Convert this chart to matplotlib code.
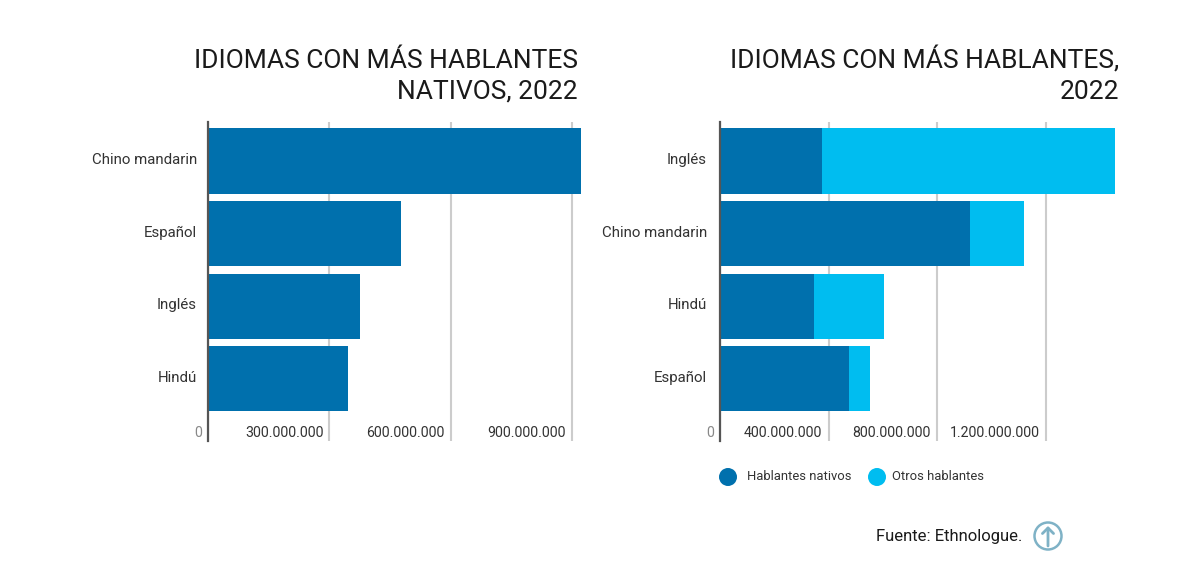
import matplotlib
matplotlib.use("Agg")
import matplotlib.pyplot as plt
from matplotlib.transforms import ScaledTranslation
from matplotlib.patches import Circle, FancyArrowPatch

left_langs = ["Chino mandarin", "Español", "Inglés", "Hindú"]
left_native = [921, 477, 375, 346]
left_ticks = [0, 300, 600, 900]
left_ticklabels = ["0", "300.000.000", "600.000.000", "900.000.000"]

right_langs = ["Inglés", "Chino mandarin", "Hindú", "Español"]
right_native = [376, 921, 346, 475]
right_other = [1079, 199, 258, 78]
right_ticks = [0, 400, 800, 1200]
right_ticklabels = ["0", "400.000.000", "800.000.000", "1.200.000.000"]

DARK = "#0070AD"
LIGHT = "#00BDF0"
W, H = 1200, 565
plt.rcParams["font.family"] = ["Roboto", "DejaVu Sans"]
fig = plt.figure(figsize=(W / 100, H / 100), dpi=100, facecolor="white")


def make_axes(x0, x1):
    return fig.add_axes([x0 / W, 1 - 441 / H, (x1 - x0) / W, (441 - 122) / H])


def style(ax, langs, ticks, ticklabels, xmax, ypad):
    ax.set_xlim(0, xmax)
    ax.set_ylim(3.857, -0.537)
    ax.set_yticks(range(len(langs)), langs)
    ax.tick_params(axis="y", length=0, pad=ypad, labelsize=10.8, labelcolor="#333333")
    ax.set_xticks(ticks, ticklabels)
    ax.tick_params(axis="x", length=0, pad=-10.5, labelsize=10.2, labelcolor="#333333")
    ax.xaxis.grid(True, color="#cccccc", lw=1.5)
    ax.set_axisbelow(True)
    for s in ("top", "right", "bottom"):
        ax.spines[s].set_visible(False)
    ax.spines["left"].set_color("#555555")
    ax.spines["left"].set_linewidth(1.6)
    ax.spines["left"].set_zorder(5)
    shift = ScaledTranslation(-6 / 100, 0, fig.dpi_scale_trans)
    for i, lab in enumerate(ax.get_xticklabels()):
        lab.set_ha("right")
        lab.set_transform(lab.get_transform() + shift)
        if i == 0:
            lab.set_color("#888888")
    up = ScaledTranslation(0, 2.5 / 100, fig.dpi_scale_trans)
    for lab in ax.get_yticklabels():
        lab.set_transform(lab.get_transform() + up)


axl = make_axes(208, 590)
axl.barh(range(4), left_native, height=0.9, color=DARK, edgecolor="none")
style(axl, left_langs, left_ticks, left_ticklabels, 382 / 0.4047, 8)

axr = make_axes(720, 1125)
axr.barh(range(4), right_native, height=0.9, color=DARK, label="Hablantes nativos")
axr.barh(range(4), right_other, left=right_native, height=0.9, color=LIGHT, label="Otros hablantes")
style(axr, right_langs, right_ticks, right_ticklabels, 405 / 0.2714, 9.4)

TITLE = dict(fontsize=19, color="#1a1a1a", ha="right", va="baseline")
fig.text(578 / W, 1 - 68.5 / H, "IDIOMAS CON MÁS HABLANTES", **TITLE)
fig.text(578 / W, 1 - 99 / H, "NATIVOS, 2022", **TITLE)
fig.text(1119 / W, 1 - 68.5 / H, "IDIOMAS CON MÁS HABLANTES,", **TITLE)
fig.text(1119 / W, 1 - 99 / H, "2022", **TITLE)

overlay = fig.add_axes([0, 0, 1, 1], zorder=10)
overlay.set_xlim(0, W)
overlay.set_ylim(H, 0)
overlay.axis("off")
overlay.patch.set_alpha(0)
overlay.add_patch(Circle((728, 477), 9, color=DARK, lw=0))
overlay.add_patch(Circle((877, 477), 9, color=LIGHT, lw=0))
overlay.text(747, 477, "Hablantes nativos", fontsize=9.4, va="center", color="#333333")
overlay.text(892, 477, "Otros hablantes", fontsize=9.4, va="center", color="#333333")
overlay.text(1022, 537, "Fuente: Ethnologue.", fontsize=12, ha="right", va="center", color="#1a1a1a")
overlay.add_patch(Circle((1048, 536), 13.5, fc="white", ec="#7FB2C6", lw=1.8))
overlay.add_patch(FancyArrowPatch((1048, 546), (1048, 526), arrowstyle="->,head_length=4,head_width=4",
                                  color="#7FB2C6", lw=2, shrinkA=0, shrinkB=0))

fig.savefig("out.png", dpi=100, facecolor="white")
